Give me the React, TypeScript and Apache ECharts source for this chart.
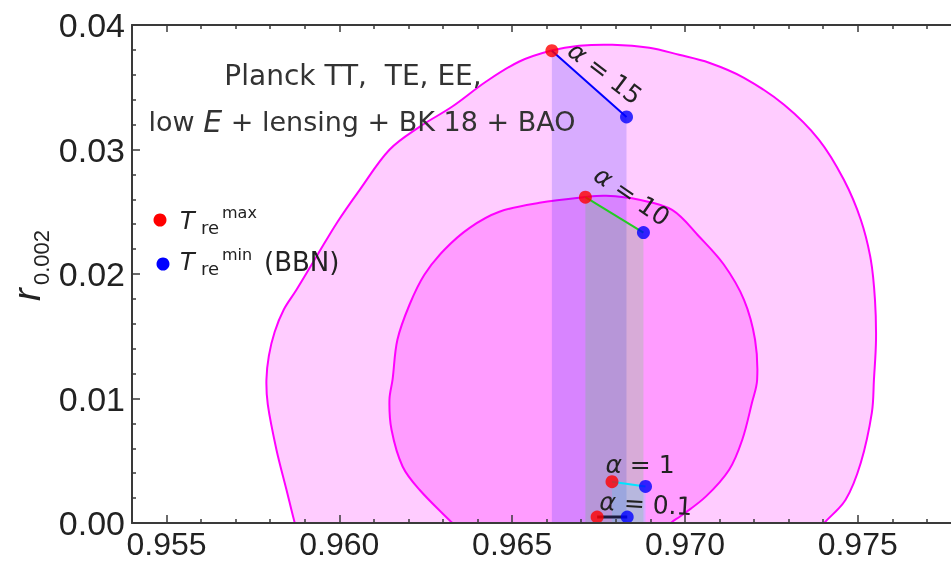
import React, { useEffect, useRef } from "react";
import * as echarts from "echarts";

// Outer (95%) contour, clockwise from below the left crossing of r = 0 (the parts below 0 are clipped)
const outerX = [0.95897, 0.95871, 0.95847, 0.95818, 0.95793, 0.95789, 0.95796, 0.95813, 0.95839, 0.95876, 0.95937, 0.95995, 0.96059, 0.96145, 0.96232, 0.96327, 0.96425, 0.96521, 0.96614, 0.96694, 0.9679, 0.96897, 0.96983, 0.9707, 0.97171, 0.97287, 0.97388, 0.9746, 0.97509, 0.97538, 0.9755, 0.97553, 0.97547, 0.97541, 0.97509, 0.97465, 0.97403, 0.97335];
const outerY = [-0.0026, 0, 0.00267, 0.00589, 0.0095, 0.01151, 0.01343, 0.01536, 0.01713, 0.01873, 0.02155, 0.0242, 0.02676, 0.02998, 0.03182, 0.03345, 0.03546, 0.03707, 0.03795, 0.03833, 0.03841, 0.03817, 0.03761, 0.03697, 0.03576, 0.03359, 0.03078, 0.02757, 0.02436, 0.02114, 0.01793, 0.01472, 0.01151, 0.00886, 0.00484, 0.00187, 0, -0.0022];

// Inner (68%) contour
const innerX = [0.9642, 0.96327, 0.96232, 0.96183, 0.96151, 0.96145, 0.96154, 0.96168, 0.96203, 0.96246, 0.96304, 0.96377, 0.96463, 0.96579, 0.96711, 0.96772, 0.96868, 0.96963, 0.97041, 0.97113, 0.97171, 0.97203, 0.97209, 0.97194, 0.97166, 0.97128, 0.97061, 0.96985, 0.9696, 0.9694];
const innerY = [-0.0025, 0, 0.00267, 0.00454, 0.00749, 0.0099, 0.01151, 0.01472, 0.01753, 0.01994, 0.02195, 0.02371, 0.025, 0.02572, 0.02618, 0.02628, 0.02596, 0.02515, 0.02301, 0.02074, 0.01793, 0.01472, 0.01151, 0.00966, 0.00669, 0.00428, 0.00214, 0.0005, 0, -0.001];

// Predictions for each alpha: T_re^max (red) and T_re^min (blue)
const alphaNames = ["15", "10", "1", "0.1"];
const tmaxNs = [0.96615, 0.96712, 0.96789, 0.96746];
const tmaxR = [0.03794, 0.02617, 0.00332, 0.00048];
const tminNs = [0.96831, 0.9688, 0.96886, 0.96833];
const tminR = [0.03262, 0.02333, 0.00294, 0.00048];
const segColors = ["#0000ff", "#22cc22", "#00e5ff", "#1c1c40"];
const fillColors = ["rgba(0,0,255,0.22)", "rgba(0,255,0,0.22)", "rgba(0,255,255,0.22)", "rgba(0,0,0,0)"];

// Axis ticks
const xMajor = [0.955, 0.96, 0.965, 0.97, 0.975];
const xMinor = [0.954, 0.956, 0.957, 0.958, 0.959, 0.961, 0.962, 0.963, 0.964, 0.966, 0.967, 0.968, 0.969, 0.971, 0.972, 0.973, 0.974, 0.976, 0.977];
const X_MIN = 0.954;
const X_MAX = 0.9777;

const AXIS_COLOR = "#3a3a3a";
const TEXT_COLOR = "#222";

function polygonSeries(xs: number[], ys: number[], fill: string) {
  const pts = xs.map((x, i) => [x, ys[i]]);
  return {
    type: "custom",
    coordinateSystem: "cartesian2d",
    data: pts,
    encode: { x: 0, y: 1 },
    silent: true,
    clip: true,
    z: 1,
    renderItem: (params: any, api: any) => {
      if (params.dataIndex !== 0) return null;
      const p = pts.map((d) => api.coord(d));
      return {
        type: "group",
        children: [
          { type: "polygon", shape: { points: p, smooth: 0.35 }, style: { fill, stroke: "none" } },
          { type: "polyline", shape: { points: p, smooth: 0.35 }, style: { fill: "none", stroke: "#ff00ff", lineWidth: 2 } },
        ],
      };
    },
  };
}

export default function App() {
  const ref = useRef<HTMLDivElement>(null);
  useEffect(() => {
    if (!ref.current) return;
    const chart = echarts.init(ref.current, null, { renderer: "svg" });

    const axisBase = {
      type: "value",
      min: X_MIN,
      max: X_MAX,
      splitLine: { show: false },
      z: 5,
    };

    const segSeries: any[] = alphaNames.map((name, i) => ({
      type: "line",
      name: "alpha " + name,
      data: [
        [tmaxNs[i], tmaxR[i]],
        [tminNs[i], tminR[i]],
      ],
      showSymbol: false,
      symbol: "none",
      lineStyle: { color: segColors[i], width: i === 3 ? 3 : 2 },
      areaStyle: { color: fillColors[i], origin: "start" },
      z: 2,
      clip: true,
    }));

    const alphaStyle = (name: string) => ({
      text: "{a|α} = " + name,
      font: "25px 'DejaVu Sans'",
      fill: TEXT_COLOR,
      textAlign: "center",
      textVerticalAlign: "middle",
      rich: { a: { fontStyle: "italic", fontSize: 25, fontFamily: "DejaVu Sans", fill: TEXT_COLOR } },
    });

    const option: any = {
      animation: false,
      grid: { left: 132, right: 0, top: 25, bottom: 39, containLabel: false, outerBoundsMode: "none" },
      xAxis: [
        {
          ...axisBase,
          position: "bottom",
          axisLine: { show: true, onZero: false, lineStyle: { color: AXIS_COLOR, width: 2 } },
          axisTick: { show: true, inside: true, length: 8, customValues: xMajor, lineStyle: { color: AXIS_COLOR, width: 1.5 } },
          axisLabel: {
            show: true,
            customValues: xMajor,
            formatter: (v: number) => v.toFixed(3),
            fontSize: 32,
            lineHeight: 28,
            fontFamily: "Liberation Sans, Arial, sans-serif",
            color: TEXT_COLOR,
            margin: 7,
          },
        },
        {
          ...axisBase,
          position: "bottom",
          axisLine: { show: false, onZero: false },
          axisTick: { show: true, inside: true, length: 4, customValues: xMinor, lineStyle: { color: AXIS_COLOR, width: 1.5 } },
          axisLabel: { show: false },
        },
        {
          ...axisBase,
          position: "top",
          axisLine: { show: true, onZero: false, lineStyle: { color: AXIS_COLOR, width: 2 } },
          axisTick: { show: true, inside: true, length: 7, customValues: xMajor, lineStyle: { color: AXIS_COLOR, width: 1.5 } },
          axisLabel: { show: false },
        },
        {
          ...axisBase,
          position: "top",
          axisLine: { show: false, onZero: false },
          axisTick: { show: true, inside: true, length: 4, customValues: xMinor, lineStyle: { color: AXIS_COLOR, width: 1.5 } },
          axisLabel: { show: false },
        },
      ],
      yAxis: {
        type: "value",
        min: 0,
        max: 0.04,
        interval: 0.01,
        z: 5,
        splitLine: { show: false },
        axisLine: { show: true, onZero: false, lineStyle: { color: AXIS_COLOR, width: 2 } },
        axisTick: { show: true, inside: true, length: 8, lineStyle: { color: AXIS_COLOR, width: 1.5 } },
        minorTick: { show: true, splitNumber: 5, length: 4, lineStyle: { color: AXIS_COLOR, width: 1.5 } },
        axisLabel: {
          formatter: (v: number) => v.toFixed(2),
          fontSize: 34,
          fontFamily: "Liberation Sans, Arial, sans-serif",
          color: TEXT_COLOR,
          margin: 7,
        },
      },
      series: [
        polygonSeries(outerX, outerY, "#ffccff"),
        polygonSeries(innerX, innerY, "#ff9cff"),
        ...segSeries,
        {
          type: "scatter",
          name: "Tre max",
          data: tmaxNs.map((x, i) => [x, tmaxR[i]]),
          symbolSize: 13,
          itemStyle: { color: "#ff0000" },
          z: 4,
          clip: false,
        },
        {
          type: "scatter",
          name: "Tre min",
          data: tminNs.map((x, i) => [x, tminR[i]]),
          symbolSize: 13,
          itemStyle: { color: "#0000ff" },
          z: 4,
          clip: false,
        },
      ],
      graphic: [
        // Data set annotation
        {
          type: "text",
          x: 353,
          y: 75,
          z: 10,
          style: {
            text: "Planck TT,  TE, EE,",
            font: "28px 'DejaVu Sans'",
            fill: "#333",
            textAlign: "center",
            textVerticalAlign: "middle",
          },
        },
        {
          type: "text",
          x: 362,
          y: 121,
          z: 10,
          style: {
            text: "low {i|E} + lensing + BK 18 + BAO",
            font: "27px 'DejaVu Sans'",
            fill: "#333",
            textAlign: "center",
            textVerticalAlign: "middle",
            rich: { i: { fontStyle: "italic", fontSize: 30, fontFamily: "DejaVu Sans", fill: "#333" } },
          },
        },
        // Legend
        { type: "circle", shape: { cx: 160, cy: 220, r: 6.5 }, style: { fill: "#ff0000" }, z: 10 },
        { type: "circle", shape: { cx: 163, cy: 264, r: 6.5 }, style: { fill: "#0000ff" }, z: 10 },
        { type: "text", x: 180, y: 221, z: 10, style: { text: "T", font: "italic 24px 'DejaVu Sans'", fill: TEXT_COLOR, textVerticalAlign: "middle" } },
        { type: "text", x: 201, y: 227, z: 10, style: { text: "re", font: "18px 'DejaVu Sans'", fill: TEXT_COLOR, textVerticalAlign: "middle" } },
        { type: "text", x: 222, y: 212, z: 10, style: { text: "max", font: "16px 'DejaVu Sans'", fill: TEXT_COLOR, textVerticalAlign: "middle" } },
        { type: "text", x: 180, y: 262, z: 10, style: { text: "T", font: "italic 24px 'DejaVu Sans'", fill: TEXT_COLOR, textVerticalAlign: "middle" } },
        { type: "text", x: 201, y: 268, z: 10, style: { text: "re", font: "18px 'DejaVu Sans'", fill: TEXT_COLOR, textVerticalAlign: "middle" } },
        { type: "text", x: 222, y: 254, z: 10, style: { text: "min", font: "16px 'DejaVu Sans'", fill: TEXT_COLOR, textVerticalAlign: "middle" } },
        { type: "text", x: 264, y: 262, z: 10, style: { text: "(BBN)", font: "26px 'DejaVu Sans'", fill: TEXT_COLOR, textVerticalAlign: "middle" } },
        // Alpha labels
        { type: "text", x: 605, y: 73, rotation: -0.65, z: 10, style: alphaStyle(alphaNames[0]) },
        { type: "text", x: 632, y: 196, rotation: -0.6, z: 10, style: alphaStyle(alphaNames[1]) },
        { type: "text", x: 640, y: 464, z: 10, style: alphaStyle(alphaNames[2]) },
        { type: "text", x: 646, y: 504, rotation: -0.06, z: 10, style: alphaStyle(alphaNames[3]) },
        // Y axis name r_{0.002}
        {
          type: "group",
          x: 46,
          y: 301,
          rotation: Math.PI / 2,
          z: 10,
          children: [
            { type: "text", x: 0, y: 0, style: { text: "r", font: "italic 38px 'Liberation Sans'", fill: TEXT_COLOR, textAlign: "left", textVerticalAlign: "bottom" } },
            { type: "text", x: 16, y: 6, style: { text: "0.002", font: "22px 'Liberation Sans'", fill: TEXT_COLOR, textAlign: "left", textVerticalAlign: "bottom" } },
          ],
        },
      ],
    };

    chart.setOption(option);
    return () => chart.dispose();
  }, []);

  return <div ref={ref} style={{ position: "fixed", left: 0, top: 0, width: 951, height: 562 }} />;
}
